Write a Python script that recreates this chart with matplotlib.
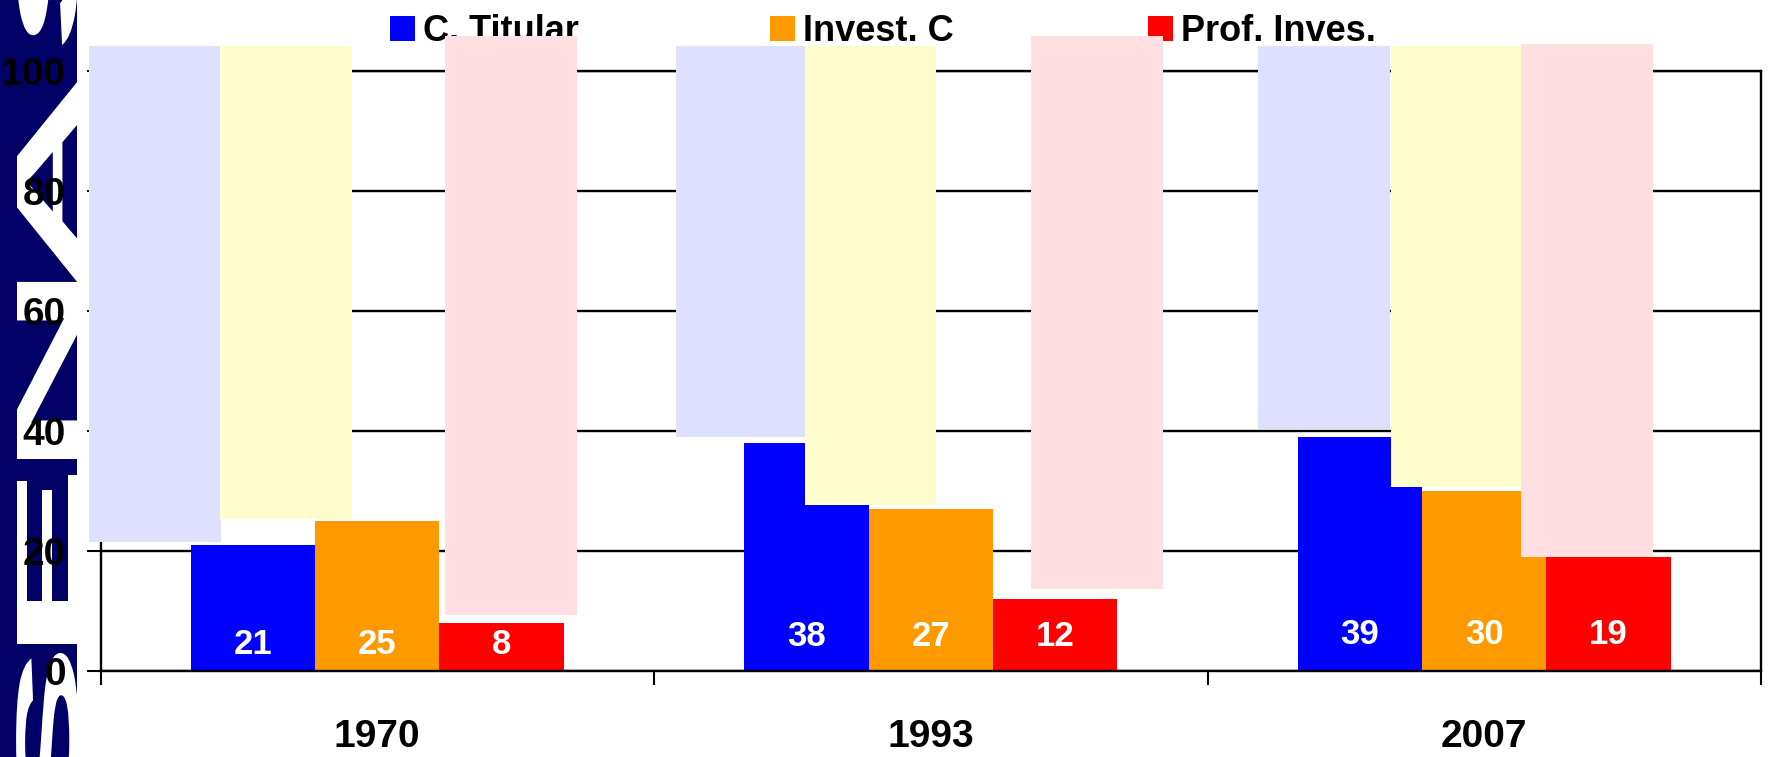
import matplotlib
matplotlib.use('Agg')
import matplotlib.pyplot as plt
import matplotlib.transforms as mtransforms
from matplotlib.textpath import TextPath
from matplotlib.font_manager import FontProperties
from matplotlib.patches import PathPatch, Rectangle

W, H, DPI = 1769, 757, 100
FONT = 'Liberation Sans'

# ---------------- data ----------------
years = ['1970', '1993', '2007']
series = ['C. Titular', 'Invest. C', 'Prof. Inves.']
c_titular = [21, 38, 39]
invest_c = [25, 27, 30]
prof_inves = [8, 12, 19]
colors = ['#0000FF', '#FF9900', '#FF0000']

# pale panels lying over the chart (left edge inside each category, lower edge value)
lav_left = [-0.020, 0.040, 0.092]
lav_bottom = [21.5, 39.0, 40.3]
yel_left = [0.216, 0.272, 0.331]
yel_bottom = [25.3, 27.7, 30.7]
pink_left = [0.623, 0.682, 0.567]
pink_bottom = [9.3, 13.7, 19.05]
pink_top = [105.8, 105.8, 104.5]
pale_top = 104.2
pale_colors = ['#DFDFFF', '#FFFDCC', '#FFDFE1']

# decorative letters of the left band (bottom to top)
band_letters = ['S', 'E', 'N', 'A', 'S']

# ---------------- figure ----------------
fig = plt.figure(figsize=(W / DPI, H / DPI), dpi=DPI)
fig.patch.set_facecolor('white')

# navy band with giant stretched white letters
band_w = 77
fig.add_artist(Rectangle((0, 0), band_w / W, 1, transform=fig.transFigure,
                         facecolor='#000066', edgecolor='none', zorder=-2))
fp = FontProperties(family=FONT, weight='bold')
pE = TextPath((0, 0), 'E', size=1, prop=fp).get_extents()
SH = 169 / pE.width
SV = 61 / pE.height
base_x = 78
clip = mtransforms.Bbox.from_extents(0, 0, band_w, H)
# lower ink edge (pixel row from top) of each letter; first one is set from its upper edge
ink_rows = [None, 644, 459, 283, 45]
for ch, row in zip(band_letters, ink_rows):
    p = TextPath((0, 0), ch, size=1, prop=fp)
    ext = p.get_extents()
    if row is None:
        row = 653 + SH * ext.width
    ty = H - row - SH * ext.x0
    tr = mtransforms.Affine2D().scale(SH, SV).rotate_deg(90).translate(base_x, ty)
    pp = PathPatch(p, transform=tr, facecolor='white', edgecolor='none', zorder=-1)
    pp.set_clip_box(clip)
    fig.add_artist(pp)

# axes
x0, x1 = 100.5, 1761
y_top, y_bot = 71, 671
ax = fig.add_axes([x0 / W, (H - y_bot) / H, (x1 - x0) / W, (y_bot - y_top) / H])
ax.set_xlim(0, 3)
ax.set_ylim(0, 100)
ax.set_axisbelow(True)
ax.set_facecolor('white')
for s in ['left', 'right', 'top', 'bottom']:
    ax.spines[s].set_linewidth(1.7)
    ax.spines[s].set_color('black')
ax.yaxis.grid(True, color='black', linewidth=1.7)
ax.set_yticks([0, 20, 40, 60, 80, 100])
ax.set_xticks([0, 1, 2, 3])
ax.set_xticklabels([])
ax.tick_params(axis='both', direction='out', length=10, width=1.5, color='black')
ax.tick_params(axis='y', pad=15, labelsize=28)
for lbl in ax.get_yticklabels():
    lbl.set_fontweight('bold')
    lbl.set_family(FONT)

# bars
bw = 0.2245
label_lift = [2.8, 4.2, 4.5]
vals = [c_titular, invest_c, prof_inves]
for si, (v, col) in enumerate(zip(vals, colors)):
    xs = [i + 0.5 + (si - 1) * bw for i in range(len(years))]
    ax.bar(xs, v, width=bw, color=col, edgecolor='none', zorder=1)
    for i, (x, val) in enumerate(zip(xs, v)):
        ax.text(x, label_lift[i], str(val), ha='center', va='baseline', color='white',
                fontsize=25, fontweight='bold', family=FONT, zorder=2)

# category labels
lab_tr = mtransforms.offset_copy(ax.get_xaxis_transform(), fig=fig, y=-76, units='dots')
for i, yr in enumerate(years):
    ax.text(i + 0.5, 0, yr, transform=lab_tr, ha='center', va='baseline',
            fontsize=28, fontweight='bold', family=FONT, clip_on=False)

# legend at the top
leg_sq_x = [390, 770, 1148]
for name, col, sx in zip(series, colors, leg_sq_x):
    ax.add_patch(Rectangle((sx / W, 1 - 41 / H), 25 / W, 25 / H, transform=fig.transFigure,
                           facecolor=col, edgecolor='none', clip_on=False, zorder=3))
    ax.text((sx + 33) / W, 1 - 41 / H, name, transform=fig.transFigure, ha='left',
            va='baseline', fontsize=26, fontweight='bold', family=FONT, zorder=3,
            clip_on=False)

# pale panels on top
pw = 0.238
for i in range(len(years)):
    for left, bottom, top, col in [(lav_left[i], lav_bottom[i], pale_top, pale_colors[0]),
                                   (yel_left[i], yel_bottom[i], pale_top, pale_colors[1]),
                                   (pink_left[i], pink_bottom[i], pink_top[i], pale_colors[2])]:
        ax.add_patch(Rectangle((i + left, bottom), pw, top - bottom, facecolor=col,
                               edgecolor='none', clip_on=False, zorder=4))

fig.savefig('out.png', dpi=DPI)
